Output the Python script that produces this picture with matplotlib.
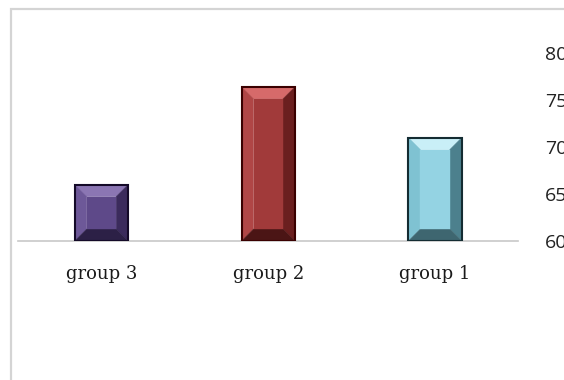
import matplotlib.pyplot as plt
import numpy as np
from matplotlib.patches import Polygon, Rectangle
from matplotlib.transforms import IdentityTransform

categories = ['group 3', 'group 2', 'group 1']
values = [66.0, 76.4, 71.0]
y_ticks = [60, 65, 70, 75, 80]

# face, top, left, right, bottom, outline
palettes = [
    ['#5e4989', '#8b76b3', '#6d5898', '#3b2b5c', '#2c2046', '#140a28'],
    ['#a13a3a', '#d66a6a', '#b04646', '#6b1f1f', '#4b1515', '#3a0000'],
    ['#94d3e3', '#c9eff7', '#7fc2d2', '#4c808d', '#3e6670', '#142c32'],
]

fig = plt.figure(figsize=(5.64, 3.80), dpi=100)
W, H = 564, 380

# chart frame
fig.patches.append(Rectangle((11 / W, -0.1), 1.2, 1.1 - 9 / H, transform=fig.transFigure,
                             fill=False, edgecolor='#d4d4d4', linewidth=1.6, zorder=0))

ax = fig.add_axes([18 / W, (H - 241) / H, 500.5 / W, 188 / H])
x = np.arange(len(categories))
bars = ax.bar(x, [v - 60 for v in values], bottom=60, width=0.32, color='none', linewidth=0)
ax.set_xlim(-0.5, 2.5)
ax.set_ylim(60, 80)

for sp in ['top', 'left', 'right']:
    ax.spines[sp].set_visible(False)
ax.spines['bottom'].set_color('#c8c8c8')
ax.spines['bottom'].set_linewidth(1.2)

ax.yaxis.tick_right()
ax.set_yticks(y_ticks)
ax.set_yticklabels([str(t) for t in y_ticks], fontfamily='Open Sans', fontsize=14, color='#222222')
ax.tick_params(axis='y', length=0, pad=19)
ax.set_xticks(x)
ax.set_xticklabels(categories, fontfamily='DejaVu Serif', fontsize=13, color='#1a1a1a')
ax.tick_params(axis='x', length=0, pad=17)

fig.canvas.draw()

# bevelled bars drawn over each bar's extent
d = 12
for bar, pal in zip(bars, palettes):
    face, top, left, right, bottom, edge = pal
    bb = bar.get_window_extent()
    x0, y0, x1, y1 = bb.x0, bb.y0, bb.x1, bb.y1
    facets = [
        ([(x0, y1), (x1, y1), (x1 - d, y1 - d), (x0 + d, y1 - d)], top),
        ([(x0, y0), (x0, y1), (x0 + d, y1 - d), (x0 + d, y0 + d)], left),
        ([(x1, y0), (x1, y1), (x1 - d, y1 - d), (x1 - d, y0 + d)], right),
        ([(x0, y0), (x1, y0), (x1 - d, y0 + d), (x0 + d, y0 + d)], bottom),
        ([(x0 + d, y0 + d), (x1 - d, y0 + d), (x1 - d, y1 - d), (x0 + d, y1 - d)], face),
    ]
    for pts, c in facets:
        ax.add_patch(Polygon(pts, closed=True, facecolor=c, edgecolor=c, linewidth=0.3,
                             transform=IdentityTransform(), zorder=3))
    ax.add_patch(Polygon([(x0, y0), (x1, y0), (x1, y1), (x0, y1)], closed=True, fill=False,
                         edgecolor=edge, linewidth=1.5, transform=IdentityTransform(), zorder=4))

fig.savefig('out.png', dpi=100)
